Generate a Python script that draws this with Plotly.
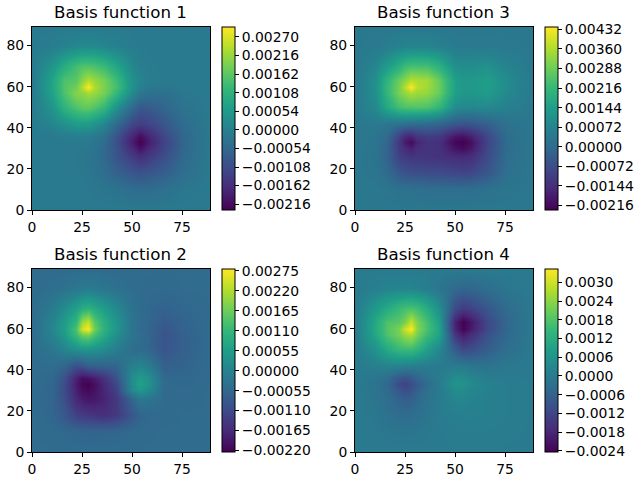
import plotly.graph_objects as go

# grid nodes of the basis functions
x_nodes = [0, 10, 16, 22, 25, 28, 31, 36, 42, 50, 54, 58, 66, 76, 89]
y_nodes = [0, 10, 18, 26, 30, 33, 36, 42, 50, 57, 60, 63, 70, 80, 89]

# values in units of 1e-5, one row per y node
basis_1 = [
    [-15, -15, -15, -15, -15, -15, -15, -15, -15, -15, -15, -15, -15, -15, -15],
    [-15, -15, -15, -15, -16, -18, -20, -25, -32, -45, -48, -45, -38, -22, -15],
    [-15, -15, -15, -17, -20, -22, -28, -42, -65, -88, -95, -90, -72, -40, -15],
    [-15, -15, -15, -18, -22, -25, -32, -55, -92, -135, -160, -140, -105, -50, -15],
    [-15, -15, -15, -17, -19, -20, -28, -52, -95, -170, -210, -175, -120, -55, -15],
    [-15, -15, -15, -16, -17, -15, -25, -45, -100, -190, -233, -195, -125, -58, -15],
    [-15, -15, -10, -5, -5, -8, -18, -35, -90, -175, -215, -180, -118, -55, -15],
    [-15, 10, 35, 55, 58, 55, 40, 10, -50, -120, -135, -125, -90, -45, -15],
    [-15, 45, 110, 150, 165, 168, 155, 120, 40, -50, -85, -80, -60, -28, -15],
    [-15, 70, 145, 200, 205, 225, 215, 185, 120, 20, -20, -35, -38, -20, -15],
    [-15, 75, 150, 180, 235, 299, 235, 190, 140, 33, 0, -15, -22, -17, -15],
    [-15, 72, 145, 160, 200, 235, 215, 185, 130, 35, 8, -8, -15, -15, -15],
    [-15, 45, 95, 135, 150, 150, 145, 125, 80, 15, -5, -12, -15, -15, -15],
    [-15, -8, 5, 15, 18, 18, 17, 10, 0, -12, -15, -15, -15, -15, -15],
    [-15, -15, -15, -15, -15, -15, -15, -15, -15, -15, -15, -15, -15, -15, -15],
]
basis_2 = [
    [-48, -48, -48, -48, -48, -48, -48, -48, -48, -48, -48, -48, -48, -48, -48],
    [-48, -50, -55, -60, -62, -63, -63, -62, -60, -52, -50, -49, -48, -48, -48],
    [-48, -58, -85, -125, -135, -140, -148, -155, -140, -85, -62, -55, -50, -48, -48],
    [-48, -60, -100, -165, -185, -195, -190, -175, -140, -60, -20, -30, -50, -50, -48],
    [-48, -58, -105, -180, -205, -212, -200, -170, -125, 15, 40, 20, -48, -52, -48],
    [-48, -58, -105, -185, -215, -224, -205, -165, -115, 20, 63, 35, -50, -55, -48],
    [-48, -55, -95, -175, -205, -200, -185, -150, -95, 20, 50, 30, -52, -57, -48],
    [-48, -45, -60, -100, -95, -73, -70, -70, -60, -5, 5, -10, -70, -62, -48],
    [-48, -25, 5, 30, 38, 38, 35, 20, -10, -45, -48, -60, -90, -68, -48],
    [-48, 0, 45, 115, 160, 170, 130, 80, 25, -30, -45, -60, -92, -68, -48],
    [-48, 7, 55, 135, 245, 280, 170, 95, 40, -32, -50, -60, -88, -65, -48],
    [-48, 3, 50, 105, 200, 235, 150, 90, 38, -30, -48, -58, -80, -62, -48],
    [-48, -18, 20, 60, 85, 95, 80, 50, 15, -35, -48, -55, -65, -55, -48],
    [-48, -42, -35, -25, -18, -15, -18, -28, -38, -46, -48, -50, -52, -48, -48],
    [-48, -48, -48, -48, -48, -48, -48, -48, -48, -48, -48, -48, -48, -48, -48],
]
basis_3 = [
    [37, 37, 37, 37, 37, 37, 37, 37, 37, 37, 37, 37, 37, 37, 37],
    [37, 37, 30, 20, 18, 18, 15, 10, 8, 8, 8, 10, 18, 30, 37],
    [37, 30, 0, -45, -60, -65, -68, -72, -75, -85, -90, -85, -50, 15, 37],
    [37, 25, -20, -100, -115, -125, -125, -130, -135, -145, -150, -140, -80, 10, 37],
    [37, 28, -15, -115, -150, -175, -140, -130, -135, -200, -215, -190, -90, 5, 37],
    [37, 30, -10, -125, -185, -213, -165, -135, -140, -225, -233, -205, -95, 5, 37],
    [37, 32, 0, -100, -150, -160, -125, -110, -120, -190, -200, -170, -85, 8, 37],
    [37, 42, 30, 15, 10, 3, 0, -5, -20, -50, -60, -55, -30, 20, 37],
    [37, 85, 170, 235, 250, 252, 255, 250, 210, 95, 85, 80, 85, 60, 37],
    [37, 100, 210, 300, 330, 355, 340, 330, 280, 145, 120, 120, 135, 85, 37],
    [37, 104, 215, 300, 370, 441, 365, 345, 285, 145, 125, 125, 145, 90, 37],
    [37, 100, 205, 285, 320, 365, 355, 345, 280, 145, 125, 125, 140, 90, 37],
    [37, 75, 135, 190, 225, 240, 240, 235, 195, 100, 95, 95, 105, 70, 37],
    [37, 42, 52, 65, 70, 72, 72, 70, 60, 45, 42, 42, 42, 40, 37],
    [37, 37, 37, 37, 37, 37, 37, 37, 37, 37, 37, 37, 37, 37, 37],
]
basis_4 = [
    [-3, -3, -3, -3, -3, -3, -3, -3, -3, -3, -3, -3, -3, -3, -3],
    [-3, -5, -10, -15, -16, -15, -13, -8, -3, 2, 3, 3, 3, 0, -3],
    [-3, -10, -25, -35, -38, -36, -30, -15, 0, 10, 12, 12, 10, 3, -3],
    [-3, -15, -35, -60, -70, -62, -45, -22, -2, 25, 28, 18, 10, 3, -3],
    [-3, -17, -40, -85, -105, -90, -60, -28, -3, 40, 40, 25, 12, 3, -3],
    [-3, -18, -45, -110, -127, -105, -80, -40, 0, 58, 55, 35, 15, 3, -3],
    [-3, -15, -35, -85, -95, -80, -55, -20, 0, 45, 40, 25, 5, 0, -3],
    [-3, 8, 20, 15, 10, 10, 5, 0, -5, 0, 0, -15, -18, -8, -3],
    [-3, 55, 110, 150, 155, 155, 135, 85, 30, -75, -115, -105, -72, -30, -3],
    [-3, 100, 175, 215, 250, 265, 215, 150, 90, -150, -195, -165, -95, -42, -3],
    [-3, 108, 180, 225, 300, 343, 235, 170, 95, -185, -240, -200, -115, -48, -3],
    [-3, 105, 175, 190, 225, 290, 225, 165, 85, -190, -244, -210, -115, -48, -3],
    [-3, 70, 110, 150, 165, 170, 160, 115, 45, -110, -140, -125, -85, -38, -3],
    [-3, 10, 20, 22, 22, 20, 15, 5, -15, -42, -50, -48, -32, -12, -3],
    [-3, -3, -3, -3, -3, -3, -3, -3, -3, -3, -3, -3, -3, -3, -3],
]

ticks_1 = [-0.00216, -0.00162, -0.00108, -0.00054, 0, 0.00054, 0.00108, 0.00162, 0.00216, 0.0027]
ticks_2 = [-0.0022, -0.00165, -0.0011, -0.00055, 0, 0.00055, 0.0011, 0.00165, 0.0022, 0.00275]
ticks_3 = [-0.00216, -0.00144, -0.00072, 0, 0.00072, 0.00144, 0.00216, 0.00288, 0.0036, 0.00432]
ticks_4 = [-0.0024, -0.0018, -0.0012, -0.0006, 0, 0.0006, 0.0012, 0.0018, 0.0024, 0.003]

W, H = 640, 480
FONT = "DejaVu Sans"

# title, values, colorbar ticks and limits, tick format, left edge and top edge in pixels
panels = [
    ("Basis function 1", basis_1, ticks_1, -0.00233, 0.00299, ".5f", 32, 27),
    ("Basis function 2", basis_2, ticks_2, -0.00224, 0.0028, ".5f", 32, 269),
    ("Basis function 3", basis_3, ticks_3, -0.00233, 0.00441, ".5f", 355, 27),
    ("Basis function 4", basis_4, ticks_4, -0.00244, 0.00343, ".4f", 355, 269),
]

fig = go.Figure()
annotations = []
axis_style = dict(
    range=[0, 89],
    showgrid=False,
    zeroline=False,
    showline=True,
    mirror=True,
    linecolor="black",
    linewidth=1,
    ticks="outside",
    ticklen=4,
    tickwidth=1,
    tickcolor="black",
)

for i, (title, values, cticks, zmin, zmax, fmt, left, top) in enumerate(panels):
    suffix = "" if i == 0 else str(i + 1)
    fig.add_trace(
        go.Heatmap(
            x=x_nodes,
            y=y_nodes,
            z=[[v * 1e-5 for v in row] for row in values],
            zmin=zmin,
            zmax=zmax,
            zsmooth="best",
            colorscale="Viridis",
            xaxis="x" + suffix,
            yaxis="y" + suffix,
            colorbar=dict(
                x=(left + 190) / W,
                xanchor="left",
                xpad=0,
                y=1 - (top + 91.5) / H,
                yanchor="middle",
                ypad=0,
                len=183 / H,
                lenmode="fraction",
                thickness=12.5,
                thicknessmode="pixels",
                outlinecolor="black",
                outlinewidth=1,
                tickmode="array",
                tickvals=cticks,
                tickformat=fmt,
                ticks="outside",
                ticklen=4,
                tickwidth=1,
                tickcolor="black",
                tickfont=dict(family=FONT, size=13.9, color="black"),
            ),
        )
    )
    fig.update_layout(
        {
            "xaxis" + suffix: dict(
                axis_style,
                domain=[left / W, (left + 178) / W],
                anchor="y" + suffix,
                tickvals=[0, 25, 50, 75],
                tickfont=dict(family=FONT, size=13.9, color="black"),
            ),
            "yaxis" + suffix: dict(
                axis_style,
                domain=[1 - (top + 183) / H, 1 - top / H],
                anchor="x" + suffix,
                tickvals=[0, 20, 40, 60, 80],
                tickfont=dict(family=FONT, size=13.9, color="black"),
            ),
        }
    )
    annotations.append(
        dict(
            text=title,
            x=(left + 88.75) / W,
            y=1 - (top - 4) / H,
            xref="paper",
            yref="paper",
            xanchor="center",
            yanchor="bottom",
            showarrow=False,
            borderpad=0,
            font=dict(family=FONT, size=16.67, color="black"),
        )
    )

fig.update_layout(
    width=W,
    height=H,
    margin=dict(l=0, r=0, t=0, b=0, pad=0, autoexpand=False),
    paper_bgcolor="white",
    plot_bgcolor="white",
    annotations=annotations,
    showlegend=False,
)

# the page's default body margin would push the figure 8px off
fig.write_html(
    "out.html",
    config=dict(displayModeBar=False),
    post_script="document.body.style.margin = '0';",
)
